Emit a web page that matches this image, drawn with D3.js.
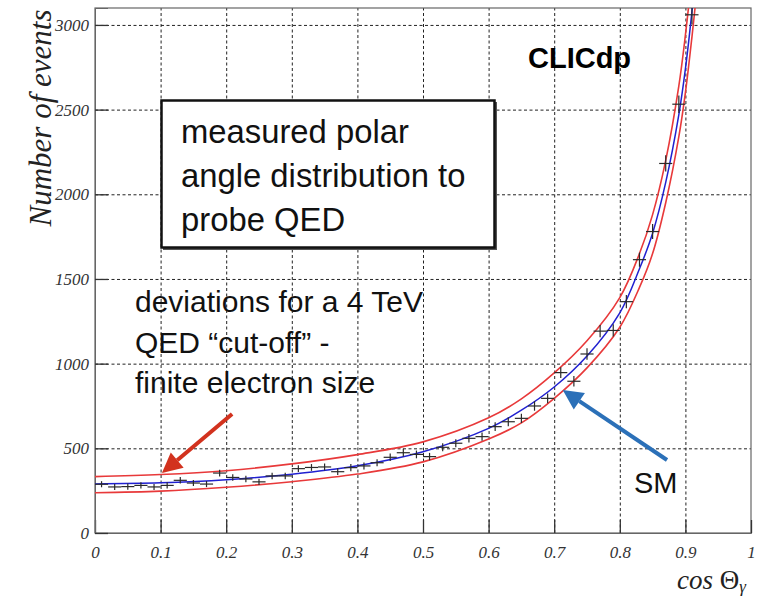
<!DOCTYPE html>
<html>
<head>
<meta charset="utf-8">
<script src="https://cdn.jsdelivr.net/npm/d3@7"></script>
<style>
  html, body { margin: 0; padding: 0; background: #fff; }
  svg { display: block; }
</style>
</head>
<body>
<div id="chart"></div>
<script>
// ===============================================
// CLICdp polar angle distribution (cos theta_gamma)
// ===============================================

// ---- data ----
const binCenters = [0.01, 0.03, 0.05, 0.07, 0.09, 0.11, 0.13, 0.15, 0.17, 0.19,
  0.21, 0.23, 0.25, 0.27, 0.29, 0.31, 0.33, 0.35, 0.37, 0.39,
  0.41, 0.43, 0.45, 0.47, 0.49, 0.51, 0.53, 0.55, 0.57, 0.59,
  0.61, 0.63, 0.65, 0.67, 0.69, 0.71, 0.73, 0.75, 0.77, 0.79,
  0.81, 0.83, 0.85, 0.87, 0.89, 0.91];
const binHalfWidth = 0.01;
const eventCounts = [288, 272, 274, 281, 272, 281, 311, 295, 289, 354,
  328, 319, 302, 337, 337, 380, 387, 390, 362, 386,
  396, 415, 447, 474, 464, 451, 506, 530, 559, 569,
  628, 657, 677, 750, 795, 947, 896, 1057, 1192, 1196,
  1366, 1614, 1780, 2182, 2532, 3060];
const eventErrors = [18, 18, 18, 18, 18, 18, 19, 18, 18, 20,
  19, 19, 18, 19, 19, 20, 20, 21, 20, 21,
  21, 21, 22, 23, 23, 22, 24, 24, 25, 25,
  26, 27, 27, 28, 29, 32, 31, 34, 36, 36,
  39, 42, 44, 48, 52, 57];

// curves: SM prediction (blue) and 4 TeV cut-off deviations (red)
const curveX = [0, 0.1, 0.2, 0.3, 0.4, 0.5, 0.6, 0.65, 0.7, 0.75, 0.8, 0.83, 0.85, 0.87, 0.89, 0.9, 0.91, 0.92];
const smCurve = [290, 296, 314, 347, 397, 480, 618, 725, 862, 1045, 1300, 1560, 1770, 2070, 2470, 2740, 3080, 3480];
const upperCurve = [333, 345, 368, 408, 463, 538, 680, 792, 945, 1135, 1390, 1650, 1880, 2200, 2640, 2940, 3300, 3720];
const lowerCurve = [238, 247, 270, 303, 348, 420, 555, 650, 795, 975, 1215, 1450, 1650, 1950, 2340, 2600, 2930, 3300];

const xTicks = [0, 0.1, 0.2, 0.3, 0.4, 0.5, 0.6, 0.7, 0.8, 0.9, 1];
const xTickLabels = ["0", "0.1", "0.2", "0.3", "0.4", "0.5", "0.6", "0.7", "0.8", "0.9", "1"];
const yTicks = [0, 500, 1000, 1500, 2000, 2500, 3000];

// ---- layout ----
const width = 762, height = 597;
const margin = { top: 8, right: 11, bottom: 64, left: 95 };
const plotW = width - margin.left - margin.right;
const plotH = height - margin.top - margin.bottom;

const x = d3.scaleLinear().domain([0, 1]).range([0, plotW]);
const y = d3.scaleLinear().domain([0, 3100]).range([plotH, 0]);

const svg = d3.select("#chart").append("svg")
  .attr("width", width)
  .attr("height", height)
  .attr("viewBox", [0, 0, width, height]);

svg.append("defs").append("clipPath").attr("id", "plot-clip")
  .append("rect").attr("width", plotW).attr("height", plotH);

const g = svg.append("g").attr("transform", `translate(${margin.left},${margin.top})`);

// dashed grid
g.append("g")
  .attr("transform", `translate(0,${plotH})`)
  .call(d3.axisBottom(x).tickValues(xTicks.slice(1, -1)).tickSize(-plotH).tickFormat(""))
  .call(a => a.select(".domain").remove())
  .call(a => a.selectAll("line").attr("stroke", "#222").attr("stroke-dasharray", "3,2.5"));

g.append("g")
  .call(d3.axisLeft(y).tickValues(yTicks.slice(1)).tickSize(-plotW).tickFormat(""))
  .call(a => a.select(".domain").remove())
  .call(a => a.selectAll("line").attr("stroke", "#222").attr("stroke-dasharray", "3,2.5"));

// frame
g.append("rect")
  .attr("width", plotW)
  .attr("height", plotH)
  .attr("fill", "none")
  .attr("stroke", "#666")
  .attr("stroke-width", 1.2);

// axes with short solid ticks + italic serif labels
const tickFont = "'Liberation Serif', 'DejaVu Serif', serif";

g.append("g")
  .attr("transform", `translate(0,${plotH})`)
  .call(d3.axisBottom(x).tickValues(xTicks).tickSize(-13).tickPadding(13)
    .tickFormat((d, i) => xTickLabels[i]))
  .call(a => a.select(".domain").attr("stroke", "#666"))
  .call(a => a.selectAll("line").attr("stroke", "#333").attr("stroke-width", 1.3))
  .call(a => a.selectAll("text")
    .attr("font-family", tickFont).attr("font-style", "italic")
    .attr("font-size", 17).attr("fill", "#333"));

g.append("g")
  .call(d3.axisLeft(y).tickValues(yTicks).tickSize(-13).tickPadding(6).tickFormat(d3.format("d")))
  .call(a => a.select(".domain").attr("stroke", "#666"))
  .call(a => a.selectAll("line").attr("stroke", "#333").attr("stroke-width", 1.3))
  .call(a => a.selectAll("text")
    .attr("font-family", tickFont).attr("font-style", "italic")
    .attr("font-size", 17).attr("fill", "#333"));

// axis titles
svg.append("text")
  .attr("transform", "translate(51,118) rotate(-90)")
  .attr("text-anchor", "middle")
  .attr("font-family", tickFont)
  .attr("font-style", "italic")
  .attr("font-size", 31)
  .attr("fill", "#222")
  .text("Number of events");

const xTitle = svg.append("text")
  .attr("x", 677)
  .attr("y", 589)
  .attr("font-family", tickFont)
  .attr("font-size", 27)
  .attr("fill", "#222");
xTitle.append("tspan").attr("font-style", "italic").text("cos ");
xTitle.append("tspan").text("Θ");
xTitle.append("tspan").attr("font-style", "italic").attr("font-size", 17).attr("dy", 3).text("γ");

// ---- curves ----
const lineGen = vals => d3.line()
  .x((d, i) => x(curveX[i]))
  .y(d => y(d))
  .curve(d3.curveCatmullRom.alpha(0.5))(vals);

const curves = g.append("g").attr("clip-path", "url(#plot-clip)");

[upperCurve, lowerCurve].forEach(vals => {
  curves.append("path")
    .attr("d", lineGen(vals))
    .attr("fill", "none")
    .attr("stroke", "#e8393a")
    .attr("stroke-width", 1.6);
});

curves.append("path")
  .attr("d", lineGen(smCurve))
  .attr("fill", "none")
  .attr("stroke", "#2020d0")
  .attr("stroke-width", 1.5);

// ---- measured points (bin width x stat. error) ----
const pts = curves.append("g")
  .selectAll("g")
  .data(binCenters.map((c, i) => ({ c, n: eventCounts[i], e: eventErrors[i] })))
  .join("g")
  .attr("stroke", "#2a2a2a")
  .attr("stroke-width", 1.2);

pts.append("line")
  .attr("x1", d => x(d.c - binHalfWidth))
  .attr("x2", d => x(d.c + binHalfWidth))
  .attr("y1", d => y(d.n))
  .attr("y2", d => y(d.n));

pts.append("line")
  .attr("x1", d => x(d.c))
  .attr("x2", d => x(d.c))
  .attr("y1", d => y(d.n - d.e))
  .attr("y2", d => y(d.n + d.e));

// ---- annotations ----
const sans = "'Liberation Sans', Arial, Helvetica, sans-serif";

svg.append("text")
  .attr("x", 528).attr("y", 68)
  .attr("font-family", sans).attr("font-weight", "bold")
  .attr("font-size", 29).attr("fill", "#000")
  .text("CLICdp");

// boxed note
svg.append("rect")
  .attr("x", 163).attr("y", 102)
  .attr("width", 334).attr("height", 148)
  .attr("fill", "#555");
svg.append("rect")
  .attr("x", 161.5).attr("y", 100.5)
  .attr("width", 333).attr("height", 147)
  .attr("fill", "#fff")
  .attr("stroke", "#111")
  .attr("stroke-width", 2.5);

const boxLines = ["measured polar", "angle distribution to", "probe QED"];
svg.append("g")
  .selectAll("text")
  .data(boxLines)
  .join("text")
  .attr("x", 181)
  .attr("y", (d, i) => 143 + i * 44)
  .attr("font-family", sans)
  .attr("font-size", 32.8)
  .attr("fill", "#111")
  .text(d => d);

const devLines = ["deviations for a 4 TeV", "QED \u201Ccut-off\u201D -", "finite electron size"];
svg.append("g")
  .selectAll("text")
  .data(devLines)
  .join("text")
  .attr("x", 135)
  .attr("y", (d, i) => 312 + i * 40.5)
  .attr("font-family", sans)
  .attr("font-size", 30)
  .attr("fill", "#111")
  .text(d => d);

svg.append("text")
  .attr("x", 634).attr("y", 493)
  .attr("font-family", sans)
  .attr("font-size", 29)
  .attr("fill", "#111")
  .text("SM");

// arrows, given in data coordinates
const arrows = [
  { from: [0.209, 703], to: [0.102, 354], color: "#d2321e" },
  { from: [0.872, 431], to: [0.713, 844], color: "#2b70b8" }
];

arrows.forEach(a => {
  const x1 = x(a.from[0]), y1 = y(a.from[1]);
  const x2 = x(a.to[0]), y2 = y(a.to[1]);
  const ang = Math.atan2(y2 - y1, x2 - x1);
  const headLen = 20, headW = 10;
  const bx = x2 - headLen * Math.cos(ang), by = y2 - headLen * Math.sin(ang);
  g.append("line")
    .attr("x1", x1).attr("y1", y1)
    .attr("x2", bx).attr("y2", by)
    .attr("stroke", a.color)
    .attr("stroke-width", 4);
  g.append("polygon")
    .attr("points", [
      [x2, y2],
      [bx + headW * Math.sin(ang), by - headW * Math.cos(ang)],
      [bx - headW * Math.sin(ang), by + headW * Math.cos(ang)]
    ].map(p => p.join(",")).join(" "))
    .attr("fill", a.color);
});
</script>
</body>
</html>
